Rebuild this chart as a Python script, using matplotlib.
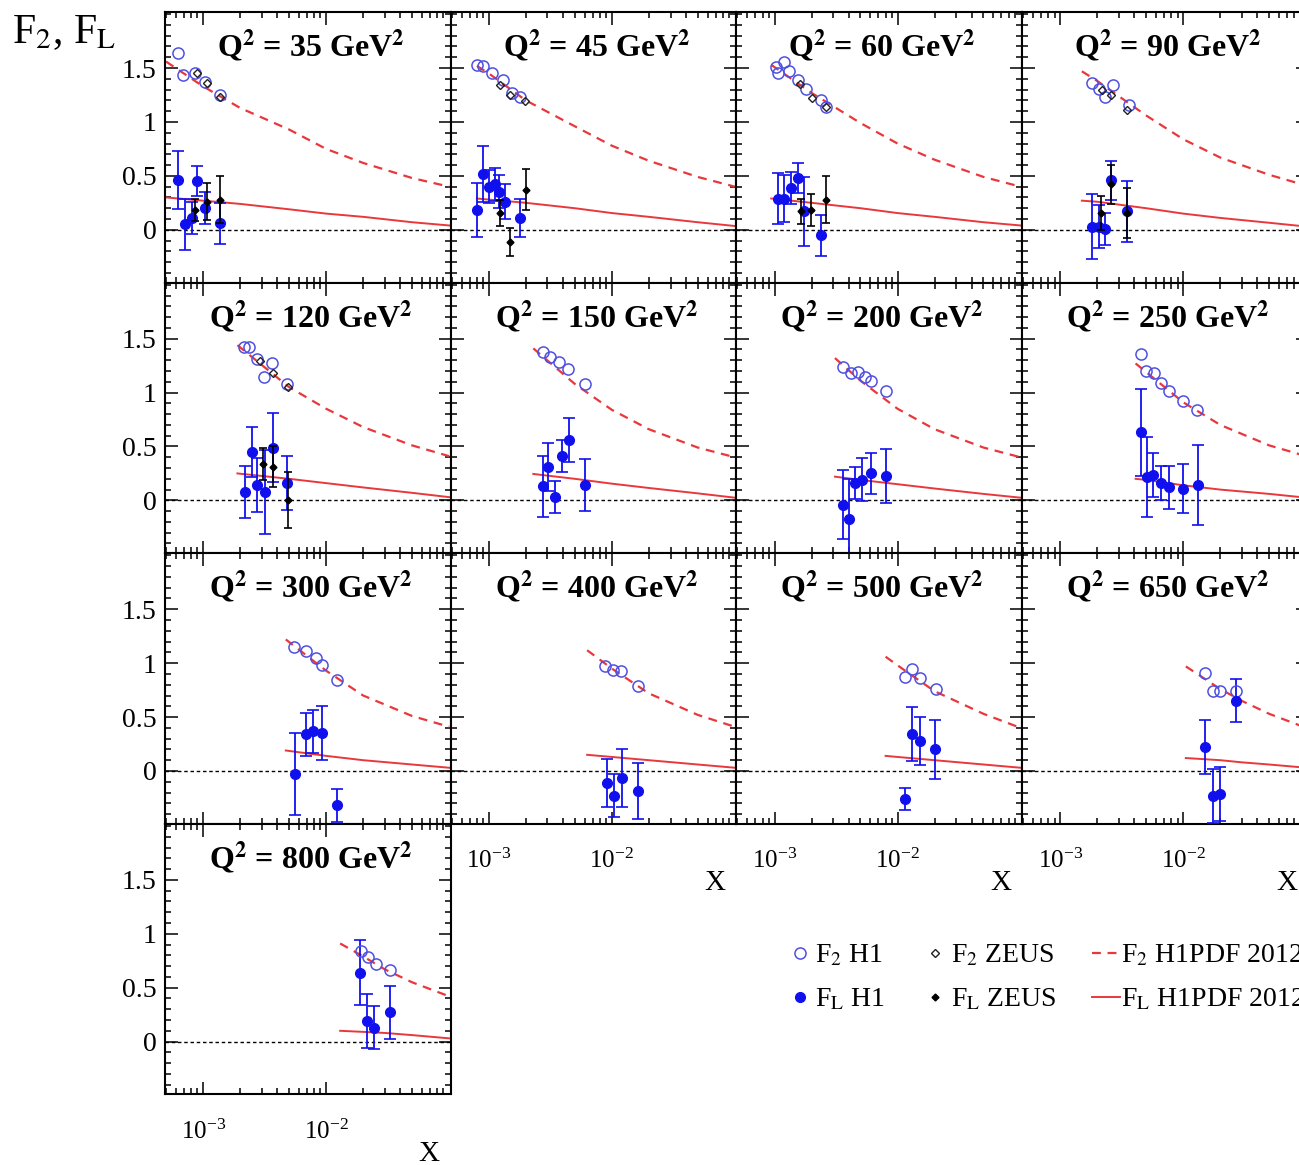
import matplotlib
matplotlib.use("Agg")
import matplotlib.pyplot as plt
from matplotlib.lines import Line2D
from matplotlib import ticker

plt.rcParams['font.family'] = ['Liberation Serif', 'DejaVu Serif']
plt.rcParams['mathtext.fontset'] = 'stix'

Q2 = [35, 45, 60, 90, 120, 150, 200, 250, 300, 400, 500, 650, 800]

# F2 H1 (open circles)
F2_H1_X = [
    [6.3e-4, 6.9e-4, 8.6e-4, 1.04e-3, 1.37e-3],
    [8.0e-4, 9.0e-4, 1.06e-3, 1.31e-3, 1.54e-3, 1.8e-3],
    [1.02e-3, 1.06e-3, 1.2e-3, 1.32e-3, 1.55e-3, 1.8e-3, 2.4e-3, 2.6e-3],
    [1.8e-3, 2.05e-3, 2.3e-3, 2.7e-3, 3.6e-3],
    [2.13e-3, 2.38e-3, 2.76e-3, 3.1e-3, 3.6e-3, 4.8e-3],
    [2.78e-3, 3.15e-3, 3.7e-3, 4.4e-3, 6.1e-3],
    [3.6e-3, 4.2e-3, 4.75e-3, 5.4e-3, 6.1e-3, 8.1e-3],
    [4.5e-3, 5.0e-3, 5.75e-3, 6.6e-3, 7.6e-3, 1.0e-2, 1.3e-2],
    [5.5e-3, 6.9e-3, 8.3e-3, 9.3e-3, 1.23e-2],
    [8.8e-3, 1.02e-2, 1.19e-2, 1.64e-2],
    [1.15e-2, 1.32e-2, 1.53e-2, 2.06e-2],
    [1.5e-2, 1.75e-2, 2.0e-2, 2.7e-2],
    [1.93e-2, 2.2e-2, 2.55e-2, 3.3e-2],
]
F2_H1_Y = [
    [1.64, 1.435, 1.45, 1.37, 1.25],
    [1.53, 1.52, 1.45, 1.39, 1.27, 1.23],
    [1.51, 1.45, 1.56, 1.47, 1.39, 1.31, 1.20, 1.14],
    [1.36, 1.31, 1.23, 1.34, 1.16],
    [1.42, 1.42, 1.31, 1.14, 1.27, 1.08],
    [1.38, 1.33, 1.28, 1.22, 1.08],
    [1.24, 1.18, 1.19, 1.14, 1.11, 1.01],
    [1.355, 1.20, 1.18, 1.09, 1.01, 0.92, 0.84],
    [1.15, 1.11, 1.05, 0.98, 0.84],
    [0.97, 0.94, 0.93, 0.79],
    [0.87, 0.95, 0.86, 0.76],
    [0.91, 0.74, 0.74, 0.74],
    [0.84, 0.78, 0.72, 0.66],
]

# F2 ZEUS (open diamonds)
F2_ZEUS_X = [
    [8.9e-4, 1.07e-3, 1.37e-3],
    [1.24e-3, 1.49e-3, 1.97e-3],
    [1.6e-3, 2.0e-3, 2.6e-3],
    [2.2e-3, 2.6e-3, 3.5e-3],
    [2.9e-3, 3.7e-3, 4.9e-3],
    [], [], [], [], [], [], [], [],
]
F2_ZEUS_Y = [
    [1.45, 1.36, 1.23],
    [1.34, 1.25, 1.19],
    [1.35, 1.22, 1.14],
    [1.30, 1.25, 1.11],
    [1.29, 1.18, 1.05],
    [], [], [], [], [], [], [], [],
]

# FL H1 (filled circles)
FL_H1_X = [
    [6.3e-4, 7.1e-4, 8.1e-4, 8.9e-4, 1.04e-3, 1.37e-3],
    [8.0e-4, 9.0e-4, 1.0e-3, 1.12e-3, 1.2e-3, 1.36e-3, 1.8e-3],
    [1.06e-3, 1.2e-3, 1.37e-3, 1.55e-3, 1.75e-3, 2.4e-3],
    [1.8e-3, 2.05e-3, 2.3e-3, 2.6e-3, 3.5e-3],
    [2.2e-3, 2.5e-3, 2.76e-3, 3.2e-3, 3.7e-3, 4.8e-3],
    [2.78e-3, 3.05e-3, 3.45e-3, 3.9e-3, 4.5e-3, 6.0e-3],
    [3.6e-3, 4.05e-3, 4.55e-3, 5.1e-3, 6.1e-3, 8.1e-3],
    [4.5e-3, 5.1e-3, 5.65e-3, 6.6e-3, 7.6e-3, 1.0e-2, 1.32e-2],
    [5.6e-3, 6.9e-3, 7.8e-3, 9.3e-3, 1.23e-2],
    [9.1e-3, 1.05e-2, 1.2e-2, 1.64e-2],
    [1.15e-2, 1.32e-2, 1.53e-2, 2.0e-2],
    [1.5e-2, 1.74e-2, 2.0e-2, 2.7e-2],
    [1.9e-2, 2.15e-2, 2.45e-2, 3.3e-2],
]
FL_H1_Y = [
    [0.46, 0.05, 0.11, 0.45, 0.20, 0.06],
    [0.185, 0.52, 0.40, 0.42, 0.355, 0.26, 0.11],
    [0.29, 0.29, 0.385, 0.48, 0.17, -0.05],
    [0.03, 0.03, 0.005, 0.46, 0.17],
    [0.08, 0.45, 0.14, 0.08, 0.49, 0.16],
    [0.13, 0.31, 0.03, 0.41, 0.56, 0.14],
    [-0.04, -0.17, 0.16, 0.19, 0.25, 0.225],
    [0.63, 0.22, 0.235, 0.16, 0.12, 0.11, 0.14],
    [-0.03, 0.34, 0.37, 0.35, -0.32],
    [-0.11, -0.23, -0.065, -0.19],
    [-0.26, 0.34, 0.28, 0.20],
    [0.22, -0.23, -0.21, 0.65],
    [0.64, 0.19, 0.13, 0.27],
]
FL_H1_ERR = [
    [0.27, 0.24, 0.15, 0.14, 0.15, 0.19],
    [0.25, 0.26, 0.15, 0.15, 0.15, 0.16, 0.18],
    [0.24, 0.22, 0.15, 0.14, 0.32, 0.19],
    [0.30, 0.20, 0.15, 0.18, 0.28],
    [0.24, 0.23, 0.25, 0.39, 0.32, 0.25],
    [0.28, 0.22, 0.15, 0.15, 0.20, 0.24],
    [0.32, 0.37, 0.15, 0.20, 0.19, 0.25],
    [0.40, 0.37, 0.20, 0.16, 0.20, 0.23, 0.37],
    [0.38, 0.20, 0.20, 0.25, 0.15],
    [0.22, 0.20, 0.27, 0.26],
    [0.10, 0.25, 0.22, 0.27],
    [0.25, 0.25, 0.25, 0.20],
    [0.30, 0.25, 0.20, 0.25],
]

# FL ZEUS (filled diamonds)
FL_ZEUS_X = [
    [8.6e-4, 1.07e-3, 1.37e-3],
    [1.24e-3, 1.49e-3, 2.0e-3],
    [1.64e-3, 1.97e-3, 2.6e-3],
    [2.15e-3, 2.6e-3, 3.5e-3],
    [3.05e-3, 3.7e-3, 4.9e-3],
    [], [], [], [], [], [], [], [],
]
FL_ZEUS_Y = [
    [0.185, 0.26, 0.28],
    [0.155, -0.11, 0.37],
    [0.17, 0.185, 0.28],
    [0.155, 0.42, 0.155],
    [0.34, 0.31, 0.0],
    [], [], [], [], [], [], [], [],
]
FL_ZEUS_ERR = [
    [0.10, 0.17, 0.22],
    [0.12, 0.13, 0.19],
    [0.12, 0.15, 0.22],
    [0.16, 0.18, 0.23],
    [0.15, 0.19, 0.26],
    [], [], [], [], [], [], [], [],
]

# H1PDF 2012 curves
CURVE_X = [
    [5e-4, 1e-3, 2e-3, 5e-3, 1e-2, 2e-2, 5e-2, 0.1],
    [8e-4, 1e-3, 2e-3, 5e-3, 1e-2, 2e-2, 5e-2, 0.1],
    [9.4e-4, 2e-3, 5e-3, 1e-2, 2e-2, 5e-2, 0.1],
    [1.5e-3, 2e-3, 5e-3, 1e-2, 2e-2, 5e-2, 0.1],
    [1.9e-3, 5e-3, 1e-2, 2e-2, 5e-2, 0.1],
    [2.3e-3, 5e-3, 1e-2, 2e-2, 5e-2, 0.1],
    [3.1e-3, 5e-3, 1e-2, 2e-2, 5e-2, 0.1],
    [4.1e-3, 5e-3, 1e-2, 2e-2, 5e-2, 0.1],
    [4.7e-3, 1e-2, 2e-2, 5e-2, 0.1],
    [6.3e-3, 1e-2, 2e-2, 5e-2, 0.1],
    [8e-3, 1e-2, 2e-2, 5e-2, 0.1],
    [1.05e-2, 2e-2, 3e-2, 5e-2, 0.1],
    [1.3e-2, 2e-2, 3e-2, 5e-2, 0.1],
]
F2_CURVE = [
    [1.56, 1.33, 1.13, 0.93, 0.75, 0.62, 0.48, 0.40],
    [1.52, 1.45, 1.20, 0.96, 0.78, 0.64, 0.49, 0.40],
    [1.53, 1.27, 0.99, 0.80, 0.65, 0.49, 0.40],
    [1.47, 1.38, 1.06, 0.84, 0.67, 0.51, 0.41],
    [1.44, 1.05, 0.85, 0.68, 0.51, 0.41],
    [1.41, 1.08, 0.84, 0.66, 0.49, 0.40],
    [1.32, 1.11, 0.85, 0.66, 0.49, 0.40],
    [1.27, 1.19, 0.91, 0.70, 0.51, 0.41],
    [1.22, 0.93, 0.70, 0.51, 0.41],
    [1.12, 0.95, 0.72, 0.52, 0.41],
    [1.06, 0.98, 0.74, 0.53, 0.40],
    [0.97, 0.76, 0.65, 0.53, 0.40],
    [0.91, 0.79, 0.67, 0.55, 0.42],
]
FL_CURVE = [
    [0.30, 0.27, 0.24, 0.19, 0.15, 0.12, 0.07, 0.04],
    [0.29, 0.28, 0.25, 0.20, 0.155, 0.12, 0.07, 0.035],
    [0.29, 0.25, 0.20, 0.155, 0.12, 0.07, 0.04],
    [0.27, 0.26, 0.20, 0.15, 0.11, 0.065, 0.03],
    [0.25, 0.20, 0.16, 0.12, 0.07, 0.03],
    [0.245, 0.20, 0.155, 0.115, 0.065, 0.025],
    [0.22, 0.19, 0.15, 0.11, 0.06, 0.025],
    [0.20, 0.19, 0.14, 0.10, 0.06, 0.025],
    [0.19, 0.14, 0.10, 0.06, 0.03],
    [0.15, 0.13, 0.10, 0.06, 0.03],
    [0.14, 0.13, 0.10, 0.06, 0.03],
    [0.12, 0.10, 0.08, 0.06, 0.03],
    [0.10, 0.09, 0.08, 0.06, 0.03],
]

BLUE = "#1010ee"
OPEN_BLUE = "#5050e0"
RED = "#e8383c"

W, H = 1299, 1165
fig = plt.figure(figsize=(W / 100, H / 100), dpi=100)

ax_w, ax_h = 285.7, 270.6
left0, top0 = 165, 12

# panels whose x tick labels are shown
xlabel_panels = {9, 10, 11, 12}

for i, q in enumerate(Q2):
    r, c = divmod(i, 4)
    x0 = left0 + c * ax_w
    y0 = top0 + r * ax_h
    ax = fig.add_axes([x0 / W, 1 - (y0 + ax_h) / H, ax_w / W, ax_h / H])
    ax.set_xscale('log')
    ax.set_xlim(4.9e-4, 0.103)
    ax.set_ylim(-0.49, 2.02)

    ax.axhline(0, color='black', lw=1.0, ls=(0, (2.5, 2)), zorder=1)
    ax.plot(CURVE_X[i], F2_CURVE[i], color=RED, lw=1.6, ls=(0, (4, 3)), zorder=2)
    ax.plot(CURVE_X[i], FL_CURVE[i], color=RED, lw=1.4, zorder=2)

    ax.errorbar(FL_H1_X[i], FL_H1_Y[i], yerr=FL_H1_ERR[i], fmt='o', color=BLUE,
                ms=7, elinewidth=1.3, capsize=4, capthick=1.2, zorder=4)
    if FL_ZEUS_X[i]:
        ax.errorbar(FL_ZEUS_X[i], FL_ZEUS_Y[i], yerr=FL_ZEUS_ERR[i], fmt='D',
                    color='black', ms=3.5, elinewidth=1.2, capsize=3,
                    capthick=1.2, zorder=5)
    ax.plot(F2_H1_X[i], F2_H1_Y[i], 'o', mfc='none', mec=OPEN_BLUE, ms=8,
            mew=1.1, zorder=4)
    if F2_ZEUS_X[i]:
        ax.plot(F2_ZEUS_X[i], F2_ZEUS_Y[i], 'D', mfc='none', mec='#222222',
                ms=4, mew=1.0, zorder=5)

    ax.text(0.51, 0.875, r"Q$^{\mathbf{2}}$ = %d GeV$^{\mathbf{2}}$" % q,
            transform=ax.transAxes, ha='center', va='center',
            fontsize=23, fontweight='bold')

    ax.yaxis.set_major_locator(ticker.FixedLocator([0, 0.5, 1, 1.5]))
    ax.yaxis.set_minor_locator(ticker.MultipleLocator(0.1))
    ax.yaxis.set_major_formatter(ticker.FuncFormatter(lambda v, p: "%g" % v))
    ax.xaxis.set_major_locator(ticker.FixedLocator([1e-3, 1e-2]))
    ax.xaxis.set_major_formatter(ticker.LogFormatterSciNotation())
    ax.xaxis.set_minor_locator(ticker.LogLocator(base=10, subs=range(2, 10), numticks=20))
    ax.xaxis.set_minor_formatter(ticker.NullFormatter())
    ax.tick_params(which='both', direction='in', top=True, right=True, width=1.1)
    ax.tick_params(which='major', length=9)
    ax.tick_params(which='minor', length=4.5)
    ax.tick_params(axis='x', pad=18, labelsize=18)
    ax.tick_params(axis='y', pad=6, labelsize=20)
    for s in ax.spines.values():
        s.set_linewidth(1.5)

    if c != 0:
        ax.tick_params(labelleft=False)
    if i not in xlabel_panels:
        ax.tick_params(labelbottom=False)
    else:
        ax.text(0.925, -0.22, "X", transform=ax.transAxes, ha='center',
                va='center', fontsize=21)

fig.text(12 / W, 1 - 33 / H, r"F$_2$, F$_{\rm L}$", fontsize=30,
         ha='left', va='center')

handles = [
    Line2D([], [], marker='o', ls='none', mfc='none', mec=OPEN_BLUE, ms=8, mew=1.1),
    Line2D([], [], marker='o', ls='none', color=BLUE, ms=7),
    Line2D([], [], marker='D', ls='none', mfc='none', mec='#222222', ms=4, mew=1.0),
    Line2D([], [], marker='D', ls='none', color='black', ms=3.5),
    Line2D([], [], color=RED, lw=1.6, ls=(0, (4, 3))),
    Line2D([], [], color=RED, lw=1.4),
]
labels = [r"F$_2$ H1", r"F$_{\rm L}$ H1", r"F$_2$ ZEUS", r"F$_{\rm L}$ ZEUS",
          r"F$_2$ H1PDF 2012", r"F$_{\rm L}$ H1PDF 2012"]
fig.legend(handles, labels, ncol=3, loc='upper left',
           bbox_to_anchor=(786 / W, 1 - 943 / H), frameon=False, fontsize=20,
           handlelength=1.0, handletextpad=0.05, columnspacing=1.3,
           labelspacing=0.65, borderpad=0, borderaxespad=0)

fig.savefig("out.png", dpi=100)
